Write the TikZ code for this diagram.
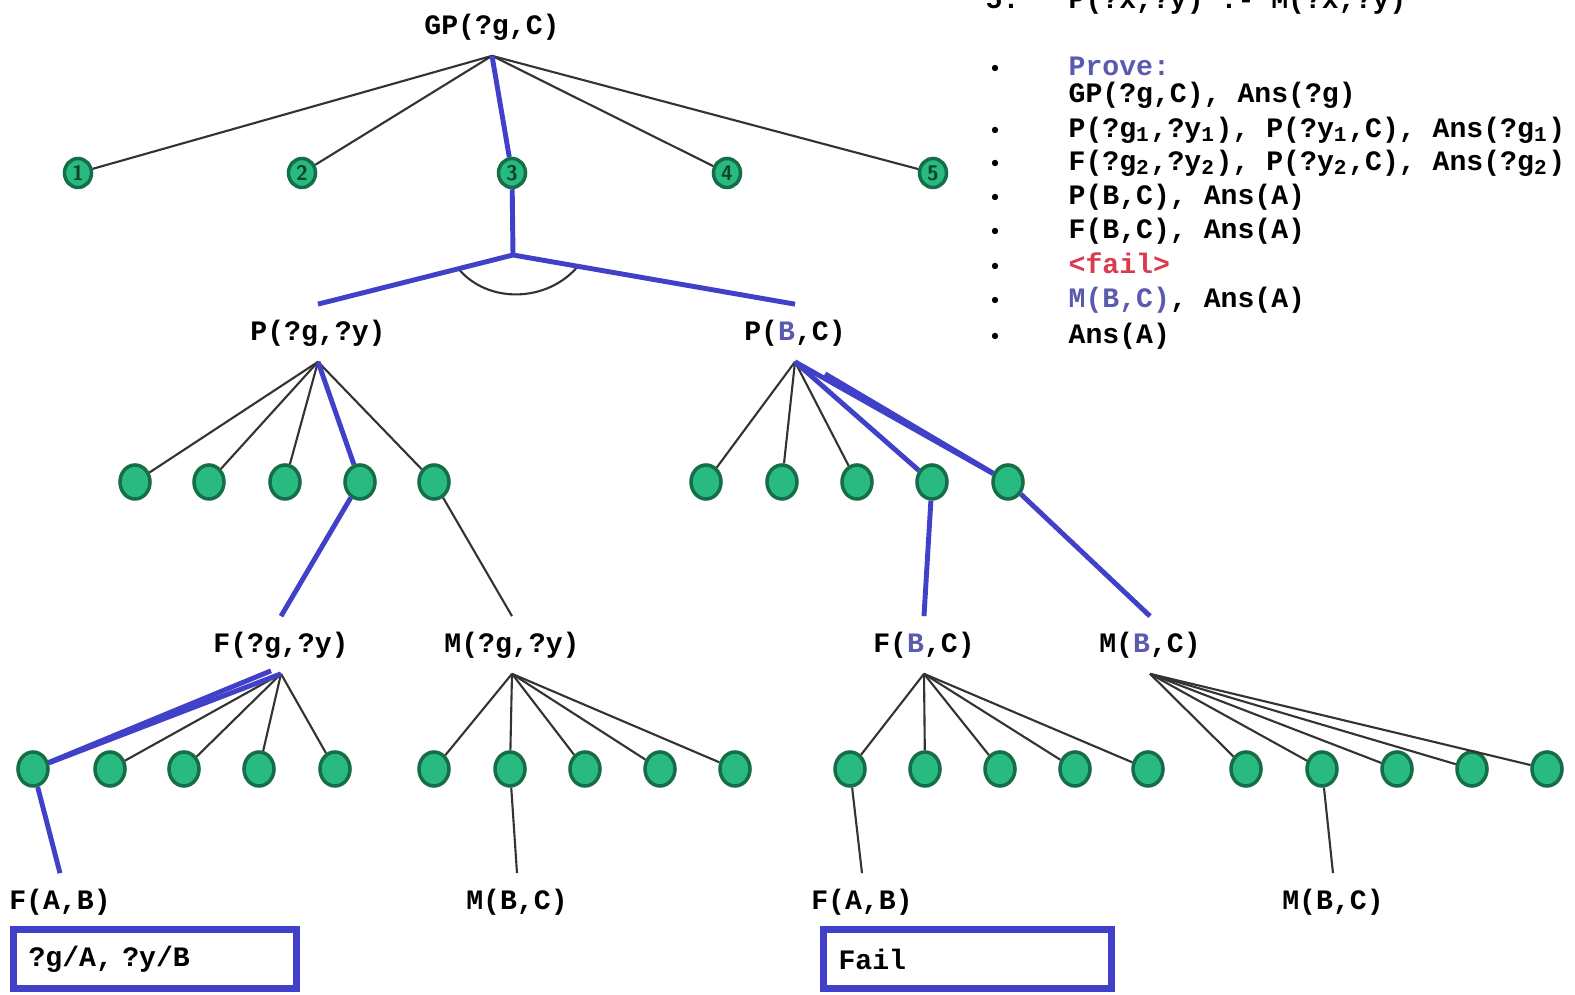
\documentclass[tikz,border=0pt]{standalone}
\usepackage{fontspec}
\setmonofont{Liberation Mono}
\usetikzlibrary{shapes.geometric,positioning,calc}

\definecolor{leafgreen}{RGB}{40,186,128}
\definecolor{leafedge}{RGB}{22,110,72}
\definecolor{pathblue}{RGB}{64,64,200}
\definecolor{varblue}{RGB}{90,90,175}
\definecolor{failred}{RGB}{215,60,80}

\begin{document}
\begin{tikzpicture}[
  x=0.01cm, y=-0.01cm,
  goal/.style={font=\ttfamily\bfseries\fontsize{8}{9}\selectfont, inner xsep=1pt, inner ysep=4pt, text height=6pt, text depth=2pt},
  proofline/.style={goal, anchor=west, inner xsep=0pt},
  leaf/.style={ellipse, draw=leafedge, fill=leafgreen, line width=1pt, minimum width=0.3cm, minimum height=0.34cm, inner sep=0pt},
  topleaf/.style={leaf, minimum width=0.27cm, minimum height=0.29cm, font=\sffamily\bfseries\fontsize{6}{6}\selectfont, text=leafedge!60!black},
  edge/.style={line width=0.6pt, black!80},
  hot/.style={line width=1.4pt, pathblue},
  answer/.style={draw=pathblue, line width=2pt, anchor=north west, minimum height=0.59cm, inner xsep=0.15cm, align=left, font=\ttfamily\bfseries\fontsize{8}{9}\selectfont}
]
  \useasboundingbox (0,0) rectangle (1575,995);

  % goals
  \node[goal] (gp)  at (492,27)  {GP(?g,C)};
  \node[goal] (pgy) at (318,333) {P(?g,?y)};
  \node[goal] (pbc) at (795,333) {P(\textcolor{varblue}{B},C)};
  \node[goal] (fgy) at (281,645) {F(?g,?y)};
  \node[goal] (mgy) at (512,645) {M(?g,?y)};
  \node[goal] (fbc) at (924,645) {F(\textcolor{varblue}{B},C)};
  \node[goal] (mbc) at (1150,645) {M(\textcolor{varblue}{B},C)};
  \node[goal] (fab1) at (60,902)  {F(A,B)};
  \node[goal] (mbc1) at (517,902) {M(B,C)};
  \node[goal] (fab2) at (862,902) {F(A,B)};
  \node[goal] (mbc2) at (1333,902) {M(B,C)};
  \coordinate (junc) at (513,255);

  % clauses
  \foreach \n/\x in {1/78,2/302,3/512,4/727,5/933}
    \node[topleaf] (t\n) at (\x,173) {\n};
  \foreach \n/\x in {1/135,2/209,3/285,4/360,5/434}
    \node[leaf] (a\n) at (\x,482) {};
  \foreach \n/\x in {1/706,2/782,3/857,4/932,5/1008}
    \node[leaf] (b\n) at (\x,482) {};
  \foreach \n/\x in {1/33,2/110,3/184,4/259,5/335}
    \node[leaf] (c\n) at (\x,769) {};
  \foreach \n/\x in {1/434,2/510,3/585,4/660,5/735}
    \node[leaf] (d\n) at (\x,769) {};
  \foreach \n/\x in {1/850,2/925,3/1000,4/1075,5/1148}
    \node[leaf] (e\n) at (\x,769) {};
  \foreach \n/\x in {1/1246,2/1322,3/1397,4/1472,5/1547}
    \node[leaf] (f\n) at (\x,769) {};

  % tree
  \foreach \n in {1,2,4,5} \draw[edge] (gp.south) -- (t\n);
  \foreach \n in {1,2,3,5} \draw[edge] (pgy.south) -- (a\n);
  \foreach \n in {1,2,3} \draw[edge] (pbc.south) -- (b\n);
  \foreach \n in {1,...,5} {
    \draw[edge] (fgy.south) -- (c\n);
    \draw[edge] (mgy.south) -- (d\n);
    \draw[edge] (fbc.south) -- (e\n);
    \draw[edge] (mbc.south) -- (f\n);
  }
  \draw[edge] (a5) -- (mgy.north);
  \draw[edge] (d2) -- (mbc1.north);
  \draw[edge] (e1) -- (fab2.north);
  \draw[edge] (f2) -- (mbc2.north);
  \draw[edge] ($(junc)!0.28!(pgy.north)$) to[out=-50,in=-130] ($(junc)!0.23!(pbc.north)$);

  % proof path
  \draw[hot] (gp.south) -- (t3) -- (junc);
  \draw[hot] (pgy.north) -- (junc) -- (pbc.north);
  \draw[hot] (pgy.south) -- (a4) -- (fgy.north);
  \draw[hot] (pbc.south) -- (b4) -- (fbc.north);
  \draw[hot] (pbc.south) -- (b5) -- (mbc.north);
  \draw[hot] ([xshift=0.3cm,yshift=-0.12cm]pbc.south) -- (b5);
  \draw[hot] (fgy.south) -- (c1) -- (fab1.north);
  \draw[hot] ([xshift=-0.1cm,yshift=0.03cm]fgy.south) -- (c1);

  % bindings
  \node[answer, text width=2.53cm] (bind) at (10,926) {?g/A, ?y/B};
  \node[answer, text width=2.58cm] (fail) at (820,926) {Fail};

  % proof steps
  \node[proofline, anchor=base west] (rnum) at (985,9) {5.};
  \node[proofline, anchor=base west] (rule) at (1068,9) {P(?x,?y) :- M(?x,?y)};
  \node[proofline] (s0) at (1068,68) {\textcolor{varblue}{Prove:}};
  \node[proofline] (s1) at (1068,95) {GP(?g,C), Ans(?g)};
  \node[proofline] (s2) at (1068,130) {P(?g\textsubscript{1},?y\textsubscript{1}), P(?y\textsubscript{1},C), Ans(?g\textsubscript{1})};
  \node[proofline] (s3) at (1068,163) {F(?g\textsubscript{2},?y\textsubscript{2}), P(?y\textsubscript{2},C), Ans(?g\textsubscript{2})};
  \node[proofline] (s4) at (1068,197) {P(B,C), Ans(A)};
  \node[proofline] (s5) at (1068,231) {F(B,C), Ans(A)};
  \node[proofline] (s6) at (1068,266) {\textcolor{failred}{<fail>}};
  \node[proofline] (s7) at (1068,300) {\textcolor{varblue}{M(B,C)}, Ans(A)};
  \node[proofline] (s8) at (1068,336) {Ans(A)};
  \foreach \y in {68,130,163,197,231,266,300,336}
    \fill (995,\y) circle (3.2);
\end{tikzpicture}
\end{document}
